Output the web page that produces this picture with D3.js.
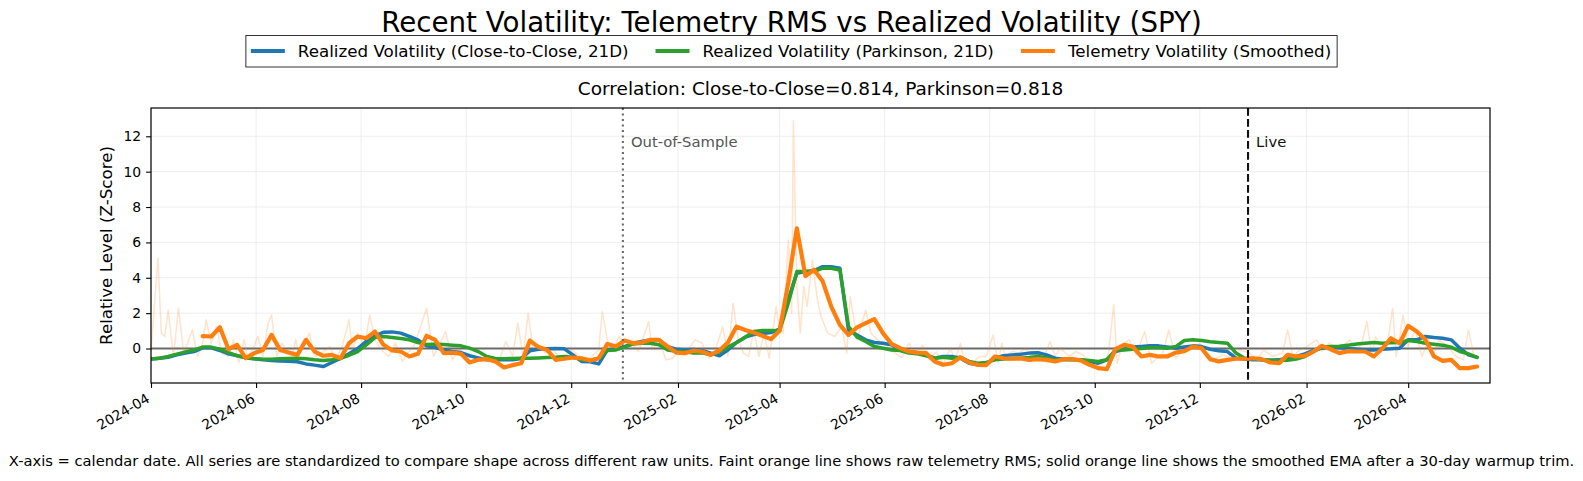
<!DOCTYPE html>
<html>
<head>
<meta charset="utf-8">
<script src="https://cdn.jsdelivr.net/npm/d3@7"></script>
<style>
    body { margin: 0; background: #fff; }
    svg { font-family: "DejaVu Sans", sans-serif; }
</style>
</head>
<body>
<div id="chart"></div>
<script>
// smooth series: one sample every 5 calendar days starting at startDate
const startDate = "2024-04-01";
const stepDays = 5;

const closeToCloseVol = [
    -0.6, -0.55, -0.5, -0.36, -0.26, -0.17, 0.04, 0.04, -0.11, -0.3,
    -0.41, -0.51, -0.58, -0.64, -0.68, -0.7, -0.72, -0.75, -0.87, -0.94,
    -1.02, -0.79, -0.56, -0.3, 0, 0.4, 0.72, 0.92, 0.94, 0.87,
    0.68, 0.49, 0.15, 0.06, -0.08, -0.17, -0.23, -0.41, -0.53, -0.64,
    -0.64, -0.64, -0.64, -0.56, -0.13, -0.04, -0.02, 0.0, -0.02, -0.36,
    -0.73, -0.75, -0.87, -0.08, -0.02, 0.11, 0.3, 0.4, 0.49, 0.49,
    0.11, -0.04, -0.08, -0.06, -0.11, -0.26, -0.41, -0.08, 0.34, 0.64,
    0.79, 0.85, 0.9, 1.1, 2.75, 4.26, 4.35, 4.4, 4.63, 4.63,
    4.54, 1.05, 0.77, 0.49, 0.34, 0.3, 0.21, -0.08, -0.17, -0.23,
    -0.36, -0.55, -0.45, -0.45, -0.55, -0.83, -0.92, -0.87, -0.55, -0.41,
    -0.36, -0.32, -0.26, -0.24, -0.36, -0.55, -0.6, -0.62, -0.64, -0.73,
    -0.83, -0.64, -0.17, -0.04, 0.08, 0.11, 0.15, 0.15, 0.08, 0.02,
    0.08, 0.15, 0.11, -0.04, -0.13, -0.17, -0.55, -0.6, -0.64, -0.64,
    -0.66, -0.64, -0.53, -0.45, -0.3, -0.11, 0.02, 0.08, 0.04, 0.0,
    -0.04, -0.08, -0.08, -0.04, -0.02, 0.02, 0.49, 0.49, 0.68, 0.62,
    0.58, 0.49, 0.02, -0.36, -0.5
];

const parkinsonVol = [
    -0.6, -0.55, -0.45, -0.32, -0.19, -0.08, 0.08, 0.08, -0.04, -0.23,
    -0.4, -0.53, -0.58, -0.6, -0.6, -0.58, -0.56, -0.55, -0.58, -0.64,
    -0.68, -0.64, -0.55, -0.38, -0.17, 0.21, 0.62, 0.68, 0.62, 0.56,
    0.49, 0.34, 0.23, 0.24, 0.23, 0.19, 0.15, 0.02, -0.17, -0.45,
    -0.56, -0.58, -0.56, -0.55, -0.55, -0.53, -0.51, -0.49, -0.45, -0.49,
    -0.64, -0.68, -0.55, -0.11, -0.08, 0.08, 0.26, 0.3, 0.3, 0.21,
    -0.08, -0.15, -0.17, -0.26, -0.24, -0.36, -0.19, 0.08, 0.34, 0.64,
    0.96, 1.02, 1.02, 1.0, 2.56, 4.35, 4.35, 4.35, 4.54, 4.54,
    4.44, 1.24, 0.64, 0.4, 0.11, 0.02, -0.08, -0.11, -0.26, -0.3,
    -0.41, -0.55, -0.49, -0.55, -0.5, -0.73, -0.83, -0.79, -0.64, -0.6,
    -0.56, -0.55, -0.51, -0.45, -0.53, -0.64, -0.64, -0.64, -0.64, -0.68,
    -0.73, -0.64, -0.08, -0.08, -0.04, 0.0, 0.04, 0.04, 0.02, 0.11,
    0.45, 0.49, 0.45, 0.38, 0.34, 0.3, -0.26, -0.55, -0.56, -0.64,
    -0.66, -0.68, -0.66, -0.6, -0.45, -0.17, 0.08, 0.11, 0.13, 0.19,
    0.26, 0.3, 0.34, 0.3, 0.32, 0.34, 0.45, 0.4, 0.3, 0.24,
    0.19, 0.08, -0.17, -0.3, -0.5
];

// smoothed EMA, first 30 days trimmed (warmup)
const telemetrySmoothed = [
    null, null, null, null, null, null, 0.7, 0.68, 1.2, -0.04,
    0.21, -0.55, -0.26, -0.08, 0.77, -0.08, -0.23, -0.36, 0.49, -0.17,
    -0.41, -0.36, -0.55, 0.3, 0.68, 0.58, 0.96, 0.21, -0.11, -0.17,
    -0.45, -0.3, 0.72, 0.49, -0.26, -0.23, -0.3, -0.79, -0.64, -0.6,
    -0.73, -1.07, -0.94, -0.83, 0.45, 0.08, -0.08, -0.64, -0.58, -0.51,
    -0.55, -0.68, -0.55, 0.26, 0.11, 0.45, 0.3, 0.34, 0.49, 0.49,
    0.11, -0.23, -0.26, -0.13, -0.17, -0.36, -0.11, 0.34, 1.24, 1.05,
    0.9, 0.72, 0.53, 1.0, 3.7, 6.8, 4.1, 4.45, 3.8, 2.37,
    1.34, 0.77, 1.2, 1.43, 1.66, 0.87, 0.26, 0.02, -0.17, -0.23,
    -0.26, -0.73, -0.92, -0.83, -0.5, -0.79, -0.92, -0.94, -0.45, -0.55,
    -0.58, -0.56, -0.64, -0.6, -0.64, -0.73, -0.6, -0.6, -0.68, -0.92,
    -1.11, -1.17, -0.04, 0.21, 0.11, -0.45, -0.36, -0.45, -0.45, -0.23,
    -0.15, 0.11, 0.02, -0.6, -0.73, -0.64, -0.58, -0.58, -0.55, -0.6,
    -0.79, -0.83, -0.36, -0.45, -0.41, -0.17, 0.15, -0.04, -0.26, -0.15,
    -0.17, -0.17, -0.45, 0.0, 0.58, 0.3, 1.28, 0.96, 0.49, -0.45,
    -0.7, -0.64, -1.11, -1.11, -1.02
];

// raw telemetry RMS: [days after startDate, z-score]
const telemetryRawPoints = [
    [0, -0.17], [4, 5.1], [6, 0.87], [8, 0.68], [10, 2.18], [13, -0.45], [16, 2.28], [19, -0.26], [22, 0.49], [24, 1.05],
    [27, -0.45], [30, 0.3], [32, 1.62], [35, 0.3], [38, 1.24], [41, -0.26], [45, -0.45], [48, 0.49], [51, -0.8], [54, 0.49],
    [56, -0.45], [59, -0.08], [62, 0.68], [65, -0.45], [68, 1.43], [70, 1.9], [73, -0.45], [76, 0.3], [79, -0.26], [82, -0.45],
    [84, 0.49], [86, -0.36], [89, 0.3], [92, 0.87], [95, -0.45], [99, -0.26], [104, 0.11], [107, -0.64], [111, 0.11], [115, 1.62],
    [117, -0.08], [120, 0.87], [124, 0.11], [127, 1.9], [130, 0.49], [134, -0.08], [138, -0.45], [142, 0.3], [146, -0.73], [149, -0.26],
    [153, 0.21],
    [160, 2.28], [164, -0.45], [167, 0.11], [171, 0.96], [175, -0.64], [179, 0.02], [182, -0.45], [186, -0.73], [190, -0.45], [194, -0.36],
    [198, -0.64], [202, -0.73], [206, 0.4], [210, -0.45], [213, 1.43], [216, -0.45], [219, 2.0], [222, -0.17], [225, 0.21], [229, -0.26],
    [233, 0.02], [237, -0.45], [241, -0.36], [244, -0.08], [248, -0.36], [252, -0.64], [256, -0.45], [260, -0.08], [262, 2.09], [265, 0.49],
    [268, -0.08], [272, 0.68], [275, 0.11], [279, 0.3], [283, -0.17], [289, 1.53], [291, -0.08], [295, 0.49], [299, -0.64], [303, -0.55],
    [306, -0.08], [310, -0.26],
    [316, 0.49], [320, 0.3], [324, -0.55], [328, 0.02], [332, 1.24], [335, -0.45], [338, 2.56], [341, 0.49], [344, -0.26], [347, -0.45],
    [350, 1.05], [353, -0.45], [356, 0.87], [359, -0.55], [363, 2.37], [365, 1.05], [367, 0.87], [370, 6.14], [372, 2.0], [373, 12.9],
    [375, 3.5], [377, 0.87], [379, 3.5], [381, 2.37], [384, 5.0], [387, 2.75], [389, 1.81], [393, 0.87], [397, 0.68], [401, 1.24],
    [404, -0.26], [406, 2.94], [410, 0.49], [415, 2.18], [418, 0.87], [422, 0.49], [428, 0.11], [432, -0.26], [436, -0.5], [440, 0.3],
    [444, -0.4], [448, 0.2], [452, -0.6], [456, -0.2], [460, -0.9], [464, 0.0], [467, -0.6],
    [470, 0.3], [472, -0.64], [477, -0.83], [481, -0.45], [485, -0.45], [489, 0.77], [492, -0.83], [494, 0.3], [496, -0.45], [500, -0.17],
    [504, -0.26], [508, 0.02], [511, -0.45], [514, -0.17], [518, -0.64], [522, 0.4], [525, -0.45], [528, 0.02], [533, -0.45], [537, -0.17],
    [541, -0.36], [545, -0.83], [549, -1.02], [553, -0.83], [556, -0.26], [559, 2.47], [561, -0.83], [564, 0.21], [568, 0.49], [572, -0.36],
    [577, 0.96], [581, -0.83], [585, -0.45], [587, -0.45], [591, 1.05], [595, -0.55], [599, -0.08], [605, 0.02], [609, 0.3], [613, -0.45],
    [617, -0.64], [622, -0.36],
    [626, -0.45], [632, -0.08], [638, -0.26], [642, -0.64], [646, -0.08], [651, -0.45], [657, -0.26], [660, 1.05], [663, -0.45], [667, -0.08],
    [671, 0.11], [677, 0.49], [680, -0.17], [684, 0.3], [690, -0.08], [696, 0.49], [700, -0.08], [703, 0.3], [706, 1.53], [709, -0.45],
    [711, 0.68], [715, -0.08], [718, 0.3], [721, 2.28], [723, -0.45], [725, 0.58], [727, 1.9], [730, 0.11], [734, 1.05], [738, -0.45],
    [742, 0.58], [744, -0.45], [748, 0.49], [752, 0.21], [758, -0.45], [762, -0.64], [765, 1.05], [768, -0.36]
];

const seriesNames = ["Realized Volatility (Close-to-Close, 21D)", "Realized Volatility (Parkinson, 21D)", "Telemetry Volatility (Smoothed)"];
const seriesColors = ["#1f77b4", "#2ca02c", "#ff7f0e"];

const xTickLabels = ["2024-04", "2024-06", "2024-08", "2024-10", "2024-12", "2025-02", "2025-04",
                     "2025-06", "2025-08", "2025-10", "2025-12", "2026-02", "2026-04"];
const yTickValues = [0, 2, 4, 6, 8, 10, 12];
const xRange = ["2024-04-01", "2026-05-18"];
const yRange = [-1.95, 13.6];

const markerDates = ["2024-12-31", "2025-12-29"];
const markerLabels = ["Out-of-Sample", "Live"];

const titleText = "Recent Volatility: Telemetry RMS vs Realized Volatility (SPY)";
const subtitleText = "Correlation: Close-to-Close=0.814, Parkinson=0.818";
const footerText = "X-axis = calendar date. All series are standardized to compare shape across different raw units. Faint orange line shows raw telemetry RMS; solid orange line shows the smoothed EMA after a 30-day warmup trim.";

const width = 1583, height = 481;
const margin = {top: 108, right: 93, bottom: 98, left: 151};
const plotW = width - margin.left - margin.right;
const plotH = height - margin.top - margin.bottom;

const parseDay = d3.utcParse("%Y-%m-%d");
const parseMonth = d3.utcParse("%Y-%m");
const start = parseDay(startDate);
const dates = closeToCloseVol.map((d, i) => d3.utcDay.offset(start, i * stepDays));

let svg = d3.select("#chart")
    .append("svg")
    .attr("width", width)
    .attr("height", height);

let x = d3.scaleUtc()
    .domain([parseDay(xRange[0]), d3.utcHour.offset(parseDay(xRange[1]), 12)])
    .range([0, plotW]);

let y = d3.scaleLinear()
    .domain(yRange)
    .range([plotH, 0]);

let g = svg.append("g")
    .attr("transform", `translate(${margin.left}, ${margin.top})`);

svg.append("defs").append("clipPath").attr("id", "plotclip")
    .append("rect").attr("width", plotW).attr("height", plotH);

// grid
let xTicks = xTickLabels.map(parseMonth);
g.append("g").selectAll("line").data(xTicks).enter().append("line")
    .attr("x1", d => x(d)).attr("x2", d => x(d))
    .attr("y1", 0).attr("y2", plotH)
    .attr("stroke", "#ececec").attr("stroke-width", 0.9);
g.append("g").selectAll("line").data(yTickValues).enter().append("line")
    .attr("x1", 0).attr("x2", plotW)
    .attr("y1", d => y(d)).attr("y2", d => y(d))
    .attr("stroke", "#ececec").attr("stroke-width", 0.9);

// zero line
g.append("line")
    .attr("x1", 0).attr("x2", plotW)
    .attr("y1", y(0)).attr("y2", y(0))
    .attr("stroke", "#6b6b6b").attr("stroke-width", 2);

let lines = g.append("g").attr("clip-path", "url(#plotclip)");

let line = d3.line()
    .defined(d => d[1] != null)
    .x(d => x(d[0]))
    .y(d => y(d[1]));

lines.append("path")
    .attr("d", line(telemetryRawPoints.map(p => [d3.utcDay.offset(start, p[0]), p[1]])))
    .attr("fill", "none")
    .attr("stroke", "#ff7f0e")
    .attr("stroke-opacity", 0.22)
    .attr("stroke-width", 1.5)
    .attr("stroke-linejoin", "round");

[closeToCloseVol, parkinsonVol, telemetrySmoothed].forEach(function(values, i) {
    lines.append("path")
        .attr("d", line(dates.map((dt, j) => [dt, values[j]])))
        .attr("fill", "none")
        .attr("stroke", seriesColors[i])
        .attr("stroke-width", i == 2 ? 4.2 : 3.5)
        .attr("stroke-linejoin", "round")
        .attr("stroke-linecap", "round");
});

// regime markers
let markerStyles = [
    {color: "#6a6a6a", dash: "2.1,3.4", text: "#555"},
    {color: "#111", dash: "7.7,3.3", text: "#111"}
];
markerDates.forEach(function(md, i) {
    let mx = x(parseDay(md));
    g.append("line")
        .attr("x1", mx).attr("x2", mx)
        .attr("y1", 0).attr("y2", plotH)
        .attr("stroke", markerStyles[i].color)
        .attr("stroke-width", 2.1)
        .attr("stroke-dasharray", markerStyles[i].dash);
    g.append("text")
        .attr("x", mx + 8)
        .attr("y", 39)
        .style("font-size", "14.8px")
        .attr("fill", markerStyles[i].text)
        .text(markerLabels[i]);
});

// axes
let xAxis = g.append("g")
    .attr("transform", `translate(0, ${plotH})`)
    .call(d3.axisBottom(x).tickValues(xTicks).tickFormat(d3.utcFormat("%Y-%m")).tickSize(4.9).tickSizeOuter(0));
xAxis.select(".domain").remove();
xAxis.selectAll("line").attr("stroke", "#000").attr("stroke-width", 1.1);
xAxis.selectAll("text")
    .attr("y", 0).attr("dy", "0.9em").attr("x", 0)
    .style("text-anchor", "end")
    .style("font-size", "13.9px")
    .style("font-family", "DejaVu Sans")
    .attr("fill", "#000")
    .attr("transform", "translate(-7, 7.5) rotate(-30)");

let yAxis = g.append("g")
    .call(d3.axisLeft(y).tickValues(yTickValues).tickSize(4.9).tickPadding(4.9).tickSizeOuter(0));
yAxis.select(".domain").remove();
yAxis.selectAll("line").attr("stroke", "#000").attr("stroke-width", 1.1);
yAxis.selectAll("text")
    .style("font-size", "13.9px")
    .style("font-family", "DejaVu Sans")
    .attr("fill", "#000");

g.append("rect")
    .attr("width", plotW).attr("height", plotH)
    .attr("fill", "none").attr("stroke", "#000").attr("stroke-width", 1.2);

g.append("text")
    .attr("transform", `translate(${-39}, ${plotH / 2}) rotate(-90)`)
    .style("text-anchor", "middle")
    .style("font-size", "16.7px")
    .text("Relative Level (Z-Score)");

g.append("text")
    .attr("x", plotW / 2).attr("y", -13)
    .style("text-anchor", "middle")
    .style("font-size", "18.5px")
    .text(subtitleText);

svg.append("text")
    .attr("x", width / 2).attr("y", 31.5)
    .style("text-anchor", "middle")
    .style("font-size", "27.7px")
    .text(titleText);

svg.append("text")
    .attr("x", width / 2).attr("y", 466)
    .style("text-anchor", "middle")
    .style("font-size", "14.7px")
    .text(footerText);

// legend
let legend = svg.append("g");
let legendBox = legend.append("rect")
    .attr("fill", "#fff").attr("stroke", "#333").attr("stroke-width", 1);
let cursor = 5;
seriesNames.forEach(function(name, i) {
    legend.append("line")
        .attr("x1", cursor).attr("x2", cursor + 34)
        .attr("y1", 0).attr("y2", 0)
        .attr("stroke", seriesColors[i]).attr("stroke-width", 4.2);
    let t = legend.append("text")
        .attr("x", cursor + 47).attr("y", 0).attr("dy", "0.36em")
        .style("font-size", "16.7px")
        .text(name);
    cursor += 47 + t.node().getComputedTextLength() + (i < 2 ? 27 : 6);
});
legendBox.attr("x", 0).attr("y", -15.5).attr("width", cursor).attr("height", 31.5);
legend.attr("transform", `translate(${width / 2 - cursor / 2}, 51)`);
</script>
</body>
</html>
